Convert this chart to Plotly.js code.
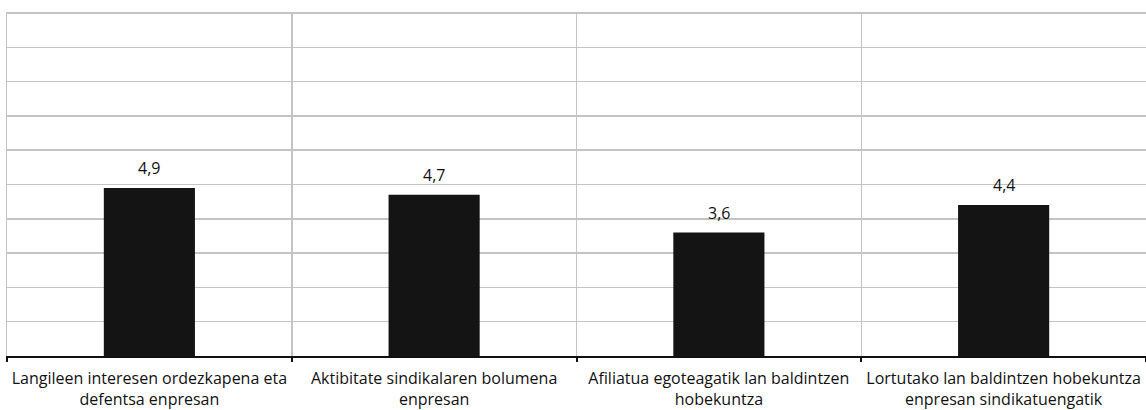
<!DOCTYPE html>
<html>
<head>
<meta charset="utf-8">
<script src="https://cdn.plot.ly/plotly-3.0.1.min.js"></script>
<style>html,body{margin:0;padding:0;background:#fff;overflow:hidden}#chart{width:1146px;height:410px}</style>
</head>
<body>
<div id="chart"></div>
<script>
const categories = [
  "Langileen interesen ordezkapena eta<br>defentsa enpresan",
  "Aktibitate sindikalaren bolumena<br>enpresan",
  "Afiliatua egoteagatik lan baldintzen<br>hobekuntza",
  "Lortutako lan baldintzen hobekuntza<br>enpresan sindikatuengatik"
];
const values = [4.9, 4.7, 3.6, 4.4];
const yTicks = [0, 1, 2, 3, 4, 5, 6, 7, 8, 9, 10];

const FONT = "'Open Sans', Lato, sans-serif";

const trace = {
  type: "bar",
  x: categories,
  y: values,
  width: 0.32,
  marker: {color: "#141414", line: {width: 0}},
  hoverinfo: "skip"
};

const annotations = values.map((v, i) => ({
  x: categories[i],
  y: v,
  xref: "x",
  yref: "y",
  text: v.toFixed(1).replace(".", ","),
  showarrow: false,
  yanchor: "bottom",
  yshift: 7,
  font: {family: FONT, size: 16, color: "#111"}
}));

const layout = {
  width: 1146,
  height: 410,
  margin: {l: 7, r: 0, t: 12, b: 54},
  paper_bgcolor: "#fff",
  plot_bgcolor: "#fff",
  showlegend: false,
  separators: ",.",
  xaxis: {
    type: "category",
    range: [-0.5, 3.5],
    tickson: "boundaries",
    tickangle: 0,
    showgrid: true,
    gridcolor: "#c4c4c4",
    gridwidth: 1.5,
    showline: true,
    linecolor: "#111",
    linewidth: 2,
    ticks: "outside",
    ticklen: 4,
    tickwidth: 2,
    tickcolor: "#111",
    ticklabelstandoff: 7,
    tickfont: {family: FONT, size: 16, color: "#111"},
    fixedrange: true
  },
  yaxis: {
    range: [0, 10.03],
    tickvals: yTicks,
    showticklabels: false,
    showgrid: true,
    gridcolor: "#c4c4c4",
    gridwidth: 1.5,
    zeroline: false,
    showline: true,
    linecolor: "#c4c4c4",
    linewidth: 1.5,
    ticks: "",
    fixedrange: true
  },
  annotations: annotations
};

Plotly.newPlot("chart", [trace], layout, {displayModeBar: false, staticPlot: true});
</script>
</body>
</html>
